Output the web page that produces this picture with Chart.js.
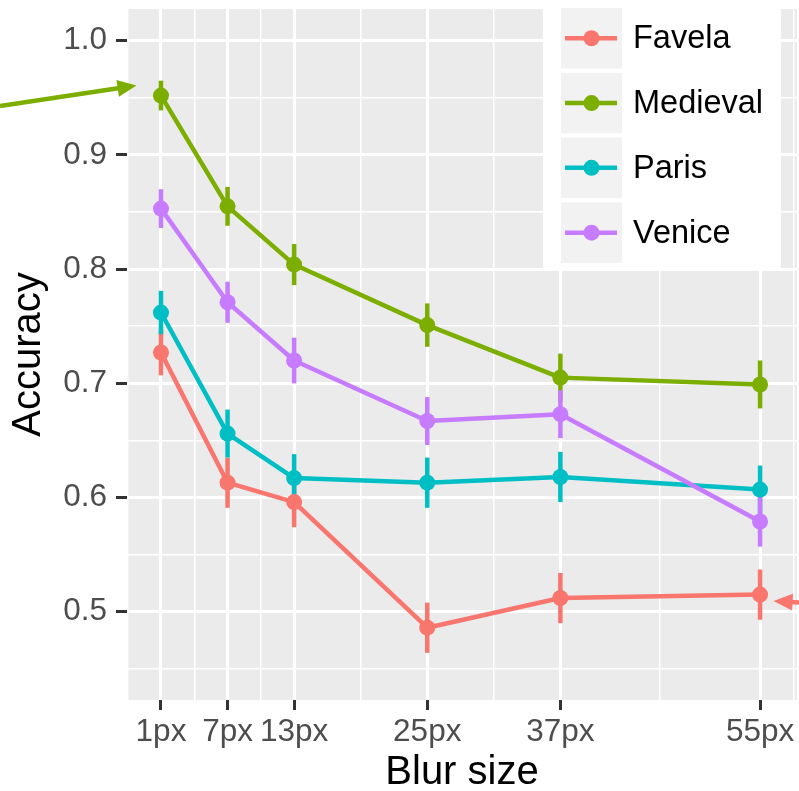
<!DOCTYPE html>
<html><head><meta charset="utf-8">
<script src="https://cdn.jsdelivr.net/npm/chart.js@4.4.0/dist/chart.umd.min.js"></script>
<style>html,body{margin:0;padding:0;background:#fff;overflow:hidden}canvas{display:block}</style>
</head><body>
<canvas id="c" width="799" height="791"></canvas>
<script>
// ---- data ----
const blurSizes = [1, 7, 13, 25, 37, 55];
const xTickLabels = ["1px", "7px", "13px", "25px", "37px", "55px"];
const xMinorBreaks = [-2, 4, 10, 19, 31, 46, 58];
const yMajorBreaks = [0.5, 0.6, 0.7, 0.8, 0.9, 1.0];
const yTickLabels = ["0.5", "0.6", "0.7", "0.8", "0.9", "1.0"];
const yMinorBreaks = [0.45, 0.55, 0.65, 0.75, 0.85, 0.95];
const seriesNames = ["Favela", "Medieval", "Paris", "Venice"];
const favela      = [0.727, 0.613, 0.596, 0.486, 0.512, 0.515];
const favelaErr   = [0.020, 0.022, 0.022, 0.022, 0.022, 0.022];
const medieval    = [0.952, 0.855, 0.804, 0.751, 0.705, 0.699];
const medievalErr = [0.013, 0.017, 0.018, 0.019, 0.021, 0.021];
const paris       = [0.762, 0.656, 0.617, 0.613, 0.618, 0.607];
const parisErr    = [0.019, 0.021, 0.021, 0.022, 0.022, 0.021];
const venice      = [0.853, 0.771, 0.720, 0.667, 0.673, 0.579];
const veniceErr   = [0.017, 0.018, 0.020, 0.021, 0.021, 0.022];
const seriesColors = ["#F8766D", "#7CAE00", "#00BFC4", "#C77CFF"];
const annotatedPoints = [{series: 1, index: 0, side: "left"}, {series: 0, index: 5, side: "right"}];

const seriesValues = [favela, medieval, paris, venice];
const seriesErrors = [favelaErr, medievalErr, parisErr, veniceErr];
const FONT = "'Liberation Sans', Arial, Helvetica, sans-serif";

const near = (a, b) => Math.abs(a - b) < 1e-6;
const isXMajor = v => blurSizes.some(b => near(b, v));
const isYMajor = v => yMajorBreaks.some(b => near(b, v));

const toPts = vals => blurSizes.map((x, i) => ({x: x, y: vals[i]}));

const datasets = [];
seriesValues.forEach((vals, s) => {
  datasets.push({
    label: seriesNames[s] + " line", data: toPts(vals),
    borderColor: seriesColors[s], borderWidth: 4.5, pointRadius: 0,
    showLine: true, fill: false, tension: 0, order: 20 - s,
    borderCapStyle: 'butt', borderJoinStyle: 'round'
  });
});
seriesValues.forEach((vals, s) => {
  datasets.push({
    label: seriesNames[s], data: toPts(vals),
    showLine: false, pointRadius: 8, pointBorderWidth: 0,
    pointBackgroundColor: seriesColors[s], borderColor: seriesColors[s],
    order: 10 - s
  });
});

const panelBg = {
  id: 'panelBg',
  beforeDraw(chart) {
    const {ctx, chartArea: a} = chart;
    ctx.save();
    ctx.fillStyle = '#EBEBEB';
    ctx.fillRect(a.left, a.top, a.right - a.left, a.bottom - a.top);
    ctx.restore();
  }
};

const errorBars = {
  id: 'errorBars',
  beforeDatasetsDraw(chart) {
    const {ctx, scales: {x, y}} = chart;
    ctx.save();
    ctx.lineWidth = 4.5;
    ctx.lineCap = 'butt';
    seriesValues.forEach((vals, s) => {
      ctx.strokeStyle = seriesColors[s];
      vals.forEach((v, i) => {
        const px = x.getPixelForValue(blurSizes[i]);
        ctx.beginPath();
        ctx.moveTo(px, y.getPixelForValue(v + seriesErrors[s][i]));
        ctx.lineTo(px, y.getPixelForValue(v - seriesErrors[s][i]));
        ctx.stroke();
      });
    });
    ctx.restore();
  }
};

function drawArrow(ctx, tx, ty, fx, fy, color) {
  const ang = Math.atan2(ty - fy, tx - fx);
  const L = 19, W = 8.5;
  const bx = tx - L * Math.cos(ang), by = ty - L * Math.sin(ang);
  ctx.strokeStyle = color; ctx.fillStyle = color; ctx.lineWidth = 4.5;
  ctx.beginPath(); ctx.moveTo(fx, fy); ctx.lineTo(bx + 2 * Math.cos(ang), by + 2 * Math.sin(ang)); ctx.stroke();
  ctx.beginPath();
  ctx.moveTo(tx, ty);
  ctx.lineTo(bx - W * Math.sin(ang), by + W * Math.cos(ang));
  ctx.lineTo(bx + W * Math.sin(ang), by - W * Math.cos(ang));
  ctx.closePath(); ctx.fill();
}

const arrows = {
  id: 'arrows',
  afterDraw(chart) {
    const {ctx, scales: {x, y}, width} = chart;
    ctx.save();
    annotatedPoints.forEach(p => {
      const px = x.getPixelForValue(blurSizes[p.index]);
      const py = y.getPixelForValue(seriesValues[p.series][p.index]);
      if (p.side === 'left') {
        drawArrow(ctx, px - 24.5, py - 10, 0, py + 10.5, seriesColors[p.series]);
      } else {
        drawArrow(ctx, px + 13.5, py + 6.5, width + 2, py + 8, seriesColors[p.series]);
      }
    });
    ctx.restore();
  }
};

const legendBox = {
  id: 'legendBox',
  afterDraw(chart) {
    const {ctx} = chart;
    ctx.save();
    ctx.fillStyle = '#ffffff';
    ctx.fillRect(543, 0, 238, 271);
    seriesNames.forEach((name, k) => {
      const ky = 8 + k * 64.8;
      ctx.fillStyle = '#F2F2F2';
      ctx.fillRect(561, ky, 61, 60.5);
      const cy = ky + 30.25;
      ctx.strokeStyle = seriesColors[k]; ctx.lineWidth = 4.5;
      ctx.beginPath(); ctx.moveTo(565, cy); ctx.lineTo(617, cy); ctx.stroke();
      ctx.fillStyle = seriesColors[k];
      ctx.beginPath(); ctx.arc(591.5, cy, 8, 0, Math.PI * 2); ctx.fill();
      ctx.fillStyle = '#000000';
      ctx.font = '32.5px ' + FONT;
      ctx.textBaseline = 'middle'; ctx.textAlign = 'left';
      ctx.fillText(name, 633, cy + 1);
    });
    ctx.restore();
  }
};

const zeroPad = sc => {
  sc.paddingTop = 0; sc.paddingBottom = 0; sc.paddingLeft = 0; sc.paddingRight = 0;
};

new Chart(document.getElementById('c'), {
  type: 'scatter',
  data: {datasets},
  plugins: [panelBg, errorBars, arrows, legendBox],
  options: {
    responsive: false, animation: false, devicePixelRatio: 1,
    layout: {autoPadding: false, padding: {left: 0, right: 2, top: 9, bottom: 0}},
    plugins: {legend: {display: false}, tooltip: {enabled: false}},
    scales: {
      x: {
        type: 'linear', min: -2.064, max: 58.33,
        afterBuildTicks: sc => { sc.ticks = [...blurSizes, ...xMinorBreaks].sort((a, b) => a - b).map(v => ({value: v})); },
        afterFit: sc => { sc.height = 91; zeroPad(sc); },
        ticks: {
          autoSkip: false, maxRotation: 0, minRotation: 0, padding: 3,
          color: '#4D4D4D', font: {family: FONT, size: 31.5},
          callback: v => { const i = blurSizes.findIndex(b => near(b, v)); return i >= 0 ? xTickLabels[i] : ''; }
        },
        grid: {
          color: '#FFFFFF',
          lineWidth: c => (c.tick && isXMajor(c.tick.value)) ? 3 : 1.5,
          drawTicks: true, tickLength: 10,
          tickColor: c => (c.tick && isXMajor(c.tick.value)) ? '#333333' : 'rgba(0,0,0,0)',
          tickWidth: 3
        },
        border: {display: false},
        title: {display: true, text: 'Blur size', color: '#000000', font: {family: FONT, size: 40, lineHeight: 0.9}, padding: {top: 0, bottom: 0}}
      },
      y: {
        type: 'linear', min: 0.4227, max: 1.0278,
        afterBuildTicks: sc => { sc.ticks = [...yMajorBreaks, ...yMinorBreaks].sort((a, b) => a - b).map(v => ({value: v})); },
        afterFit: sc => { sc.width = 127; zeroPad(sc); },
        ticks: {
          autoSkip: false, padding: 9,
          color: '#4D4D4D', font: {family: FONT, size: 31.5},
          callback: v => { const i = yMajorBreaks.findIndex(b => near(b, v)); return i >= 0 ? yTickLabels[i] : ''; }
        },
        grid: {
          color: '#FFFFFF',
          lineWidth: c => (c.tick && isYMajor(c.tick.value)) ? 3 : 1.5,
          drawTicks: true, tickLength: 11,
          tickColor: c => (c.tick && isYMajor(c.tick.value)) ? '#333333' : 'rgba(0,0,0,0)',
          tickWidth: 3
        },
        border: {display: false},
        title: {display: true, text: 'Accuracy', color: '#000000', font: {family: FONT, size: 40, lineHeight: 1}, padding: {top: 9, bottom: 0}}
      }
    }
  }
});
</script>
</body></html>
